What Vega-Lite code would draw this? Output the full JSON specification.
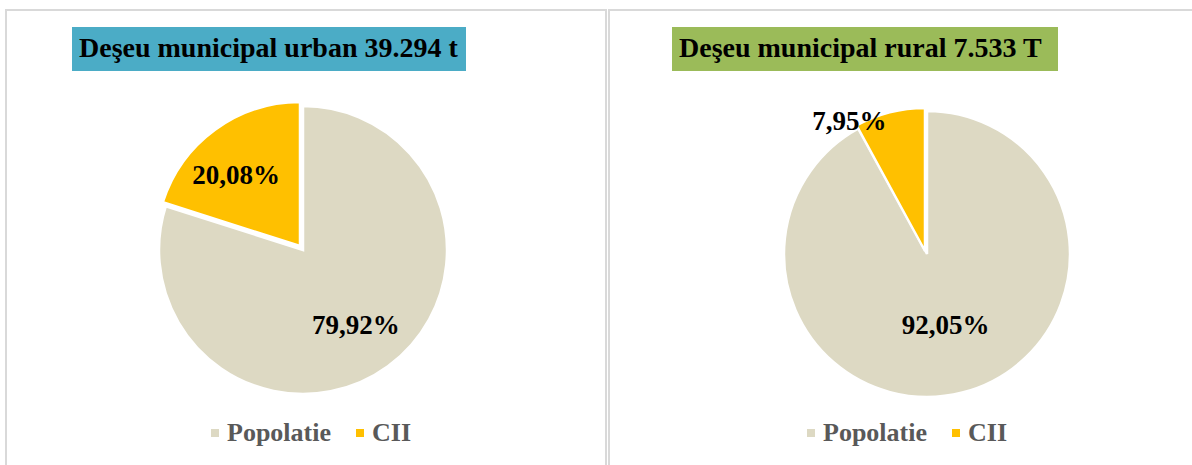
{
  "$schema": "https://vega.github.io/schema/vega-lite/v6.json",
  "background": "white",
  "padding": {"left": 5, "top": 9, "right": 0, "bottom": 0},
  "spacing": 1,
  "datasets": {
    "urban": [
      {"cat": "Popolatie", "value": 79.92, "label": "79,92%", "order": 1},
      {"cat": "CII", "value": 20.08, "label": "20,08%", "order": 2}
    ],
    "rural": [
      {"cat": "Popolatie", "value": 92.05, "label": "92,05%", "order": 1},
      {"cat": "CII", "value": 7.95, "label": "7,95%", "order": 2}
    ],
    "titleUrban": [{"title": "Deşeu municipal urban 39.294 t"}],
    "titleRural": [{"title": "Deşeu municipal rural  7.533 T"}]
  },
  "hconcat": [
    {
      "width": 600,
      "height": 480,
      "view": {"stroke": "#d9d9d9", "strokeWidth": 2},
      "data": {"name": "urban"},
      "layer": [
        {
          "transform": [
            {"stack": "value", "groupby": [], "sort": [{"field": "order"}], "as": ["v0", "v1"]},
            {"filter": "datum.cat == 'Popolatie'"}
          ],
          "mark": {"type": "arc", "outerRadius": 144, "stroke": "white", "strokeWidth": 2.5, "xOffset": -3, "yOffset": 0},
          "encoding": {
            "theta": {"field": "v0", "type": "quantitative", "scale": {"domain": [0, 100]}},
            "theta2": {"field": "v1"},
            "color": {"field": "cat", "type": "nominal", "scale": {"domain": ["Popolatie", "CII"], "range": ["#DDD9C3", "#FFC000"]},
              "legend": {"orient": "none", "legendX": 196, "legendY": 410, "direction": "horizontal", "title": null,
                "symbolType": "square", "symbolSize": 64, "symbolStrokeWidth": 0, "symbolOpacity": 1,
                "labelFont": "Liberation Serif", "labelFontSize": 26, "labelFontWeight": "bold", "labelColor": "#595959",
                "labelOffset": -1, "columnPadding": 16, "padding": 0, "labelLimit": 0}}
          }
        },
        {
          "transform": [
            {"stack": "value", "groupby": [], "sort": [{"field": "order"}], "as": ["v0", "v1"]},
            {"filter": "datum.cat == 'CII'"}
          ],
          "mark": {"type": "arc", "outerRadius": 144, "stroke": "white", "strokeWidth": 2.5, "xOffset": -6, "yOffset": -4},
          "encoding": {
            "theta": {"field": "v0", "type": "quantitative", "scale": {"domain": [0, 100]}},
            "theta2": {"field": "v1"},
            "color": {"field": "cat", "type": "nominal"}
          }
        },
        {
          "mark": {"type": "text", "radius": 93, "dx": -5, "dy": 1, "font": "Liberation Serif", "fontSize": 27, "fontWeight": "bold", "color": "black", "baseline": "middle", "align": "center"},
          "encoding": {
            "theta": {"field": "value", "type": "quantitative", "stack": true, "scale": {"domain": [0, 100]}},
            "order": {"field": "order", "type": "quantitative"},
            "text": {"condition": {"test": "datum.cat == 'Popolatie'", "field": "label"}, "value": ""}
          }
        },
        {
          "mark": {"type": "text", "radius": 93, "dx": -15, "dy": 1, "font": "Liberation Serif", "fontSize": 27, "fontWeight": "bold", "color": "black", "baseline": "middle", "align": "center"},
          "encoding": {
            "theta": {"field": "value", "type": "quantitative", "stack": true, "scale": {"domain": [0, 100]}},
            "order": {"field": "order", "type": "quantitative"},
            "text": {"condition": {"test": "datum.cat == 'CII'", "field": "label"}, "value": ""}
          }
        },
        {
          "data": {"name": "titleUrban"},
          "mark": {"type": "point", "opacity": 0, "size": 0},
          "encoding": {
            "shape": {"field": "title", "type": "nominal", "scale": {"range": ["square"]},
              "legend": {"orient": "none", "legendX": 66, "legendY": 17, "fillColor": "#4BACC6", "title": null,
                "padding": 8, "symbolSize": 0, "symbolOpacity": 0, "symbolStrokeWidth": 0, "labelOffset": -29,
                "labelFont": "Liberation Serif", "labelFontSize": 28, "labelFontWeight": "bold", "labelColor": "black", "labelLimit": 0}}
          }
        }
      ]
    },
    {
      "width": 586,
      "height": 480,
      "view": {"stroke": "#d9d9d9", "strokeWidth": 2},
      "data": {"name": "rural"},
      "layer": [
        {
          "transform": [
            {"stack": "value", "groupby": [], "sort": [{"field": "order"}], "as": ["v0", "v1"]},
            {"filter": "datum.cat == 'Popolatie'"}
          ],
          "mark": {"type": "arc", "outerRadius": 143, "stroke": "white", "strokeWidth": 2.5, "xOffset": 25, "yOffset": 4},
          "encoding": {
            "theta": {"field": "v0", "type": "quantitative", "scale": {"domain": [0, 100]}},
            "theta2": {"field": "v1"},
            "color": {"field": "cat", "type": "nominal", "scale": {"domain": ["Popolatie", "CII"], "range": ["#DDD9C3", "#FFC000"]},
              "legend": {"orient": "none", "legendX": 189, "legendY": 410, "direction": "horizontal", "title": null,
                "symbolType": "square", "symbolSize": 64, "symbolStrokeWidth": 0, "symbolOpacity": 1,
                "labelFont": "Liberation Serif", "labelFontSize": 26, "labelFontWeight": "bold", "labelColor": "#595959",
                "labelOffset": -1, "columnPadding": 16, "padding": 0, "labelLimit": 0}}
          }
        },
        {
          "transform": [
            {"stack": "value", "groupby": [], "sort": [{"field": "order"}], "as": ["v0", "v1"]},
            {"filter": "datum.cat == 'CII'"}
          ],
          "mark": {"type": "arc", "outerRadius": 143, "stroke": "white", "strokeWidth": 2.5, "xOffset": 23, "yOffset": 1},
          "encoding": {
            "theta": {"field": "v0", "type": "quantitative", "scale": {"domain": [0, 100]}},
            "theta2": {"field": "v1"},
            "color": {"field": "cat", "type": "nominal"}
          }
        },
        {
          "mark": {"type": "text", "radius": 75, "dx": 25, "dy": 3, "font": "Liberation Serif", "fontSize": 27, "fontWeight": "bold", "color": "black", "baseline": "middle", "align": "center"},
          "encoding": {
            "theta": {"field": "value", "type": "quantitative", "stack": true, "scale": {"domain": [0, 100]}},
            "order": {"field": "order", "type": "quantitative"},
            "text": {"condition": {"test": "datum.cat == 'Popolatie'", "field": "label"}, "value": ""}
          }
        },
        {
          "mark": {"type": "text", "radius": 140, "dx": -18, "dy": 8, "font": "Liberation Serif", "fontSize": 27, "fontWeight": "bold", "color": "black", "baseline": "middle", "align": "center"},
          "encoding": {
            "theta": {"field": "value", "type": "quantitative", "stack": true, "scale": {"domain": [0, 100]}},
            "order": {"field": "order", "type": "quantitative"},
            "text": {"condition": {"test": "datum.cat == 'CII'", "field": "label"}, "value": ""}
          }
        },
        {
          "data": {"name": "titleRural"},
          "mark": {"type": "point", "opacity": 0, "size": 0},
          "encoding": {
            "shape": {"field": "title", "type": "nominal", "scale": {"range": ["square"]},
              "legend": {"orient": "none", "legendX": 63, "legendY": 17, "fillColor": "#9BBB59", "title": null,
                "padding": 8, "symbolSize": 0, "symbolOpacity": 0, "symbolStrokeWidth": 0, "labelOffset": -29,
                "labelFont": "Liberation Serif", "labelFontSize": 28, "labelFontWeight": "bold", "labelColor": "black", "labelLimit": 0}}
          }
        }
      ]
    }
  ],
  "resolve": {
    "scale": {"color": "independent", "shape": "independent", "theta": "independent"},
    "legend": {"color": "independent", "shape": "independent"}
  }
}
